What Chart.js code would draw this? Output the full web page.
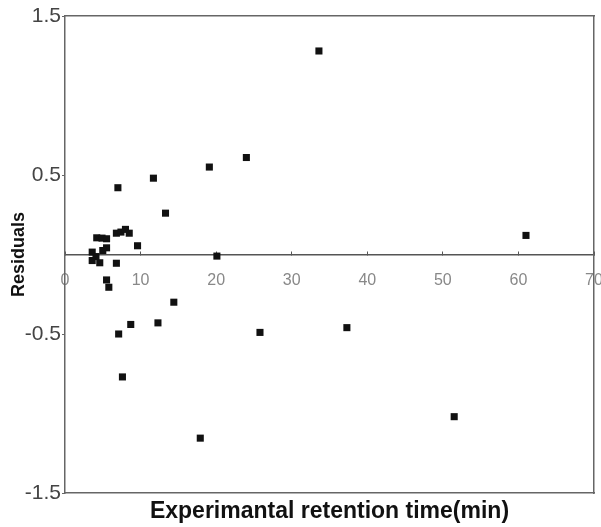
<!DOCTYPE html>
<html>
<head>
<meta charset="utf-8">
<script src="https://cdn.jsdelivr.net/npm/chart.js@4/dist/chart.umd.min.js"></script>
<style>
  html, body { margin: 0; padding: 0; background: #fff; }
  #wrap { width: 601px; height: 527px; position: relative; }
</style>
</head>
<body>
<div id="wrap"><canvas id="ch-resid"></canvas></div>
<script>
// ── Datos ──────────────────────────────────────────────────
const retentionTime = [
    33.6, 24.0, 19.1, 11.7, 7.0, 13.3, 61.0, 20.1, 25.8, 37.3, 51.5, 17.9,
    14.4, 12.3, 8.7, 7.1, 7.6,
    4.2, 4.9, 5.5, 6.8, 7.4, 8.0, 8.5, 9.6, 5.5, 5.0, 3.6, 4.1, 3.6, 4.6, 6.8,
    5.5, 5.8,
];
const residuals = [
    1.28, 0.61, 0.55, 0.48, 0.42, 0.26, 0.12, -0.01, -0.49, -0.46, -1.02, -1.155,
    -0.30, -0.43, -0.44, -0.50, -0.77,
    0.105, 0.103, 0.099, 0.134, 0.141, 0.158, 0.134, 0.055, 0.042, 0.025, 0.015, -0.013, -0.038, -0.052, -0.055,
    -0.16, -0.206,
];
const yTicks = [-1.5, -0.5, 0.5, 1.5];
const xRange = [0, 70];
const yRange = [-1.5, 1.5];

const FONT = 'Liberation Sans, Arial, sans-serif';
const AXIS = '#666';

const points = retentionTime.map((x, i) => ({ x, y: residuals[i] }));

new Chart(document.getElementById('ch-resid').getContext('2d'), {
    type: 'scatter',
    data: {
        datasets: [{
            data: points,
            xAxisID: 'x', yAxisID: 'y',
            pointStyle: 'rect', pointRadius: 5, pointHoverRadius: 5,
            backgroundColor: '#111', borderWidth: 0,
        }],
    },
    options: {
        responsive: true, maintainAspectRatio: false, animation: false,
        layout: { padding: { left: 0, right: 7, top: 16, bottom: 0 } },
        plugins: { legend: { display: false }, tooltip: { enabled: false } },
        scales: {
            // eje x sobre la linea de residuo cero
            x: {
                type: 'linear', min: xRange[0], max: xRange[1], position: { y: 0 },
                border: { display: true, color: '#555', width: 1.5 },
                grid: { drawOnChartArea: false, tickLength: -4, color: '#555' },
                ticks: { stepSize: 10, padding: 20, color: '#888', font: { family: FONT, size: 16 } },
                afterFit: s => { s.paddingLeft = 0; s.paddingRight = 0; },
            },
            // marco inferior con el titulo
            xb: {
                type: 'linear', min: xRange[0], max: xRange[1], position: 'bottom',
                border: { display: true, color: AXIS, width: 1.5 },
                grid: { display: false }, ticks: { display: false },
                title: {
                    display: true, text: 'Experimantal retention time(min)', color: '#111',
                    font: { family: FONT, size: 23, weight: 'bold', lineHeight: 1 },
                    padding: { top: 0, bottom: 4 },
                },
                afterFit: s => { s.height = 34; },
            },
            xt: {
                type: 'linear', min: xRange[0], max: xRange[1], position: 'top',
                border: { display: true, color: AXIS, width: 1.5 },
                grid: { display: false }, ticks: { display: false },
                afterFit: s => { s.height = 0; },
            },
            y: {
                type: 'linear', min: yRange[0], max: yRange[1], position: 'left',
                border: { display: true, color: AXIS, width: 1.5 },
                grid: { drawOnChartArea: false, tickLength: 3, color: AXIS },
                afterBuildTicks: s => { s.ticks = yTicks.map(v => ({ value: v })); },
                ticks: { padding: 1, color: '#444', font: { family: FONT, size: 21 } },
                title: {
                    display: true, text: 'Residuals', color: '#111',
                    font: { family: FONT, size: 18, weight: 'bold', lineHeight: 1 },
                    padding: { top: 10, bottom: 0 },
                },
                afterFit: s => { s.width = 65; },
            },
            yr: {
                type: 'linear', min: yRange[0], max: yRange[1], position: 'right',
                border: { display: true, color: AXIS, width: 1.5 },
                grid: { display: false }, ticks: { display: false },
                afterFit: s => { s.width = 0; },
            },
        },
    },
});
</script>
</body>
</html>
